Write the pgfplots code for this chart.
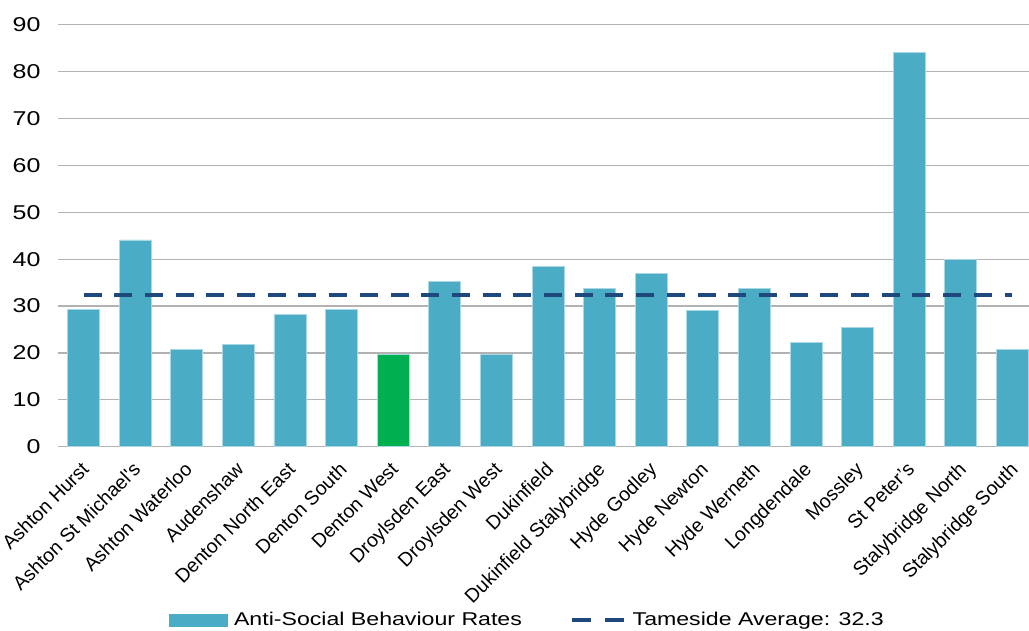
\documentclass[border=0pt]{standalone}
\usepackage{fontspec}
\setmainfont{Liberation Sans}
\newfontfamily\widefont{Liberation Sans}[FakeStretch=1.25]
\usepackage{pgfplots}
\pgfplotsset{compat=1.18}

\definecolor{asbblue}{HTML}{4BACC6}
\definecolor{asbedge}{HTML}{A9D8E4}
\definecolor{dwgreen}{HTML}{00B050}
\definecolor{avgblue}{HTML}{1F497D}
\definecolor{gridgray}{HTML}{B3B3B3}

\begin{document}
\begin{tikzpicture}[x=1pt,y=1pt]
\useasboundingbox (-57.7,-183.3) rectangle (971.3,446.7);
\begin{axis}[
    at={(0,0)}, anchor=south west,
    scale only axis, width=971.3pt, height=422pt,
    xmin=-0.5, xmax=18.32, ymin=0, ymax=90,
    ytick={0,10,...,90},
    xtick={0,...,18},
    xticklabels={Ashton Hurst, Ashton St Michael\textquotesingle s, Ashton Waterloo,
        Audenshaw, Denton North East, Denton South, Denton West, Droylsden East,
        Droylsden West, Dukinfield, Dukinfield Stalybridge, Hyde Godley,
        Hyde Newton, Hyde Werneth, Longdendale, Mossley, St Peter’s,
        Stalybridge North, Stalybridge South},
    axis line style={draw=none},
    major tick length=0pt,
    ymajorgrids,
    grid style={gridgray, line width=1.2pt},
    /pgf/number format/assume math mode=true,
    yticklabel style={font=\widefont\fontsize{20}{24}\selectfont, inner sep=0pt,
        anchor=east, xshift=-17pt},
    xticklabel style={font=\fontsize{19.5}{22}\selectfont, inner sep=0pt,
        xshift=-3.5pt, yshift=-14pt, rotate=45, anchor=north east},
    legend style={draw=none, fill=none, legend columns=2,
        font=\widefont\fontsize{18.5}{22}\selectfont,
        at={(0.4837,-0.4107)}, anchor=center,
        /tikz/every odd column/.append style={column sep=4pt},
        /tikz/every even column/.append style={column sep=46pt}},
]
% all wards but Denton West
\addplot[ybar, bar width=0.62, bar shift=0pt, fill=asbblue, draw=asbedge,
    line width=0.8pt,
    legend image code/.code={\fill[asbblue] (0pt,-6pt) rectangle (58pt,6pt);}]
    coordinates {
    (0,29.3) (1,44.1) (2,20.8) (3,21.8) (4,28.2) (5,29.3)
    (7,35.3) (8,19.7) (9,38.4) (10,33.8) (11,37.0) (12,29.0)
    (13,33.8) (14,22.3) (15,25.5) (16,84.0) (17,40.0) (18,20.8)
    };
\addlegendentry{Anti-Social Behaviour Rates}
% Denton West highlighted
\addplot[ybar, bar width=0.62, bar shift=0pt, fill=dwgreen, draw=asbedge,
    line width=0.8pt, forget plot]
    coordinates {(6,19.7)};
% Tameside average
\addplot[avgblue, line width=3.7pt, dash pattern=on 18pt off 12.7pt,
    legend image code/.code={\draw[avgblue, line width=3.7pt,
        dash pattern=on 19pt off 14pt] (0pt,0pt) -- (53pt,0pt);}]
    coordinates {(0,32.3) (18,32.3)};
\addlegendentry{Tameside Average: 32.3}
\end{axis}
\end{tikzpicture}
\end{document}
